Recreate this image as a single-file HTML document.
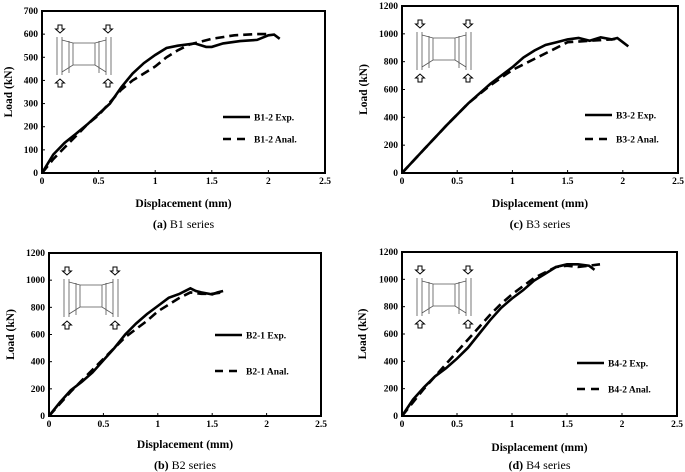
<!DOCTYPE html>
<html><head><meta charset="utf-8"><style>
html,body{margin:0;padding:0;background:#fff;}
svg{display:block;font-family:"Liberation Serif",serif;}
</style></head><body>
<svg id="fig" width="685" height="472" viewBox="0 0 685 472" xmlns="http://www.w3.org/2000/svg"></svg>
<script>
const xTicks=[0,0.5,1,1.5,2,2.5];
const xTickLabels=["0","0.5","1","1.5","2","2.5"];
const b1ExpX=[0,0.05,0.1,0.2,0.3,0.4,0.5,0.6,0.7,0.8,0.9,1.0,1.1,1.2,1.35,1.45,1.5,1.6,1.75,1.9,2.0,2.05,2.1];
const b1ExpY=[0,40,80,130,170,210,255,300,370,430,475,510,540,550,560,545,545,560,570,575,595,598,580];
const b1AnX=[0,0.1,0.2,0.3,0.4,0.5,0.6,0.7,0.8,0.9,1.0,1.1,1.2,1.3,1.5,1.7,1.9,2.0];
const b1AnY=[0,60,110,160,210,250,305,360,400,430,460,500,530,555,580,595,600,600];
const b3ExpX=[0,0.2,0.4,0.6,0.8,1.0,1.1,1.2,1.3,1.4,1.5,1.6,1.7,1.8,1.9,1.95,2.0,2.05];
const b3ExpY=[0,170,340,500,640,760,830,880,920,940,960,970,950,975,960,970,940,910];
const b3AnX=[0,0.2,0.4,0.6,0.8,1.0,1.2,1.4,1.5,1.7,1.9,1.95];
const b3AnY=[0,170,340,500,630,740,820,900,940,950,960,965];
const b2ExpX=[0,0.1,0.2,0.3,0.4,0.5,0.6,0.7,0.8,0.9,1.0,1.1,1.2,1.3,1.35,1.4,1.5,1.55,1.6];
const b2ExpY=[0,100,190,250,320,410,500,600,680,750,810,870,900,940,920,910,895,910,920];
const b2AnX=[0,0.1,0.2,0.3,0.4,0.5,0.6,0.7,0.8,0.9,1.0,1.1,1.2,1.3,1.4,1.5,1.6];
const b2AnY=[0,90,180,260,340,420,500,580,640,700,770,820,870,910,900,900,910];
const b4ExpX=[0,0.1,0.2,0.3,0.4,0.5,0.6,0.7,0.8,0.9,1.0,1.1,1.2,1.3,1.4,1.5,1.6,1.7,1.75];
const b4ExpY=[0,120,210,290,350,420,500,600,700,790,860,920,990,1040,1090,1110,1110,1100,1070];
const b4AnX=[0,0.1,0.2,0.3,0.4,0.5,0.6,0.7,0.8,0.9,1.0,1.1,1.2,1.3,1.4,1.5,1.6,1.7,1.8];
const b4AnY=[0,100,200,290,380,470,560,650,740,820,890,950,1010,1050,1090,1100,1090,1100,1110];
const y700=[0,100,200,300,400,500,600,700];
const y1200=[0,200,400,600,800,1000,1200];

const NS="http://www.w3.org/2000/svg";
const fig=document.getElementById('fig');
function mk(tag,attrs,parent){const e=document.createElementNS(NS,tag);for(const k in attrs)e.setAttribute(k,attrs[k]);(parent||fig).appendChild(e);return e;}

const panels=[
 {id:'a',L:42,R:325,T:11,B:173,yMax:700,yT:y700,ex:b1ExpX,ey:b1ExpY,ax:b1AnX,ay:b1AnY,expLbl:"B1-2 Exp.",anLbl:"B1-2 Anal.",legX:223,legY1:117,legY2:139,yTitleX:8,titleY:203,capY:224,cap:"(a)",ser:"B1 series"},
 {id:'c',L:402,R:678,T:6,B:173,yMax:1200,yT:y1200,ex:b3ExpX,ey:b3ExpY,ax:b3AnX,ay:b3AnY,expLbl:"B3-2 Exp.",anLbl:"B3-2 Anal.",legX:585,legY1:115,legY2:139,yTitleX:363,titleY:203,capY:224,cap:"(c)",ser:"B3 series"},
 {id:'b',L:49,R:321,T:253,B:416,yMax:1200,yT:y1200,ex:b2ExpX,ey:b2ExpY,ax:b2AnX,ay:b2AnY,expLbl:"B2-1 Exp.",anLbl:"B2-1 Anal.",legX:215,legY1:335,legY2:371,yTitleX:10,titleY:444,capY:465,cap:"(b)",ser:"B2 series"},
 {id:'d',L:402,R:677,T:252,B:416,yMax:1200,yT:y1200,ex:b4ExpX,ey:b4ExpY,ax:b4AnX,ay:b4AnY,expLbl:"B4-2 Exp.",anLbl:"B4-2 Anal.",legX:577,legY1:363,legY2:389,yTitleX:362,titleY:447,capY:465,cap:"(d)",ser:"B4 series"}
];

panels.forEach(p=>{
 const g=mk('g',{});
 
 
 const sx=v=>p.L+(v/2.5)*(p.R-p.L);
 const sy=v=>p.B-(v/p.yMax)*(p.B-p.T);
 const frame=mk('rect',{x:p.L,y:p.T,width:p.R-p.L,height:p.B-p.T,fill:'none',stroke:'#000','stroke-width':2},g);
 
 
 xTicks.forEach((t,i)=>{
  mk('line',{x1:sx(t),x2:sx(t),y1:p.B,y2:p.B-3,stroke:'#000','stroke-width':1},g);
  const tx=mk('text',{x:sx(t),y:p.B+11,'font-size':9.5,'font-weight':'bold','text-anchor':'middle'},g);
  tx.textContent=xTickLabels[i];
  
  
 });
 p.yT.forEach(t=>{
  mk('line',{x1:p.L,x2:p.L+3,y1:sy(t),y2:sy(t),stroke:'#000','stroke-width':1},g);
  const ty=mk('text',{x:p.L-4,y:sy(t)+3,'font-size':9.5,'font-weight':'bold','text-anchor':'end'},g);
  ty.textContent=String(t);
  
  
 });
 const xt=mk('text',{x:(p.L+p.R)/2,y:p.titleY+4,'font-size':11.5,'font-weight':'bold','text-anchor':'middle'},g);
 xt.textContent="Displacement (mm)";
 
 
 const cy=(p.T+p.B)/2;
 const yt=mk('text',{x:p.yTitleX+4,y:cy,'font-size':11.5,'font-weight':'bold','text-anchor':'middle',transform:`rotate(-90 ${p.yTitleX+4} ${cy})`},g);
 yt.textContent="Load (kN)";
 
 
 const cap=mk('text',{x:(p.L+p.R)/2,y:p.capY+4,'font-size':12,'text-anchor':'middle'},g);
 cap.innerHTML='<tspan font-weight="bold">'+p.cap+'</tspan> '+p.ser;
 
 
 // series
 const pts=(xs,ys)=>xs.map((x,i)=>sx(x).toFixed(1)+','+sy(ys[i]).toFixed(1)).join(' ');
 const an=mk('polyline',{points:pts(p.ax,p.ay),fill:'none',stroke:'#000','stroke-width':2.6,'stroke-dasharray':'9,5'},g);
 
 
 const ex=mk('polyline',{points:pts(p.ex,p.ey),fill:'none',stroke:'#000','stroke-width':2.6},g);
 
 
 // legend
 const l1=mk('line',{x1:p.legX,x2:p.legX+27,y1:p.legY1,y2:p.legY1,stroke:'#000','stroke-width':2.6},g);
 
 
 const t1=mk('text',{x:p.legX+31,y:p.legY1+3.5,'font-size':9.5,'font-weight':'bold'},g);
 t1.textContent=p.expLbl;
 
 
 const l2=mk('line',{x1:p.legX,x2:p.legX+27,y1:p.legY2,y2:p.legY2,stroke:'#000','stroke-width':2.6,'stroke-dasharray':'8,6'},g);
 
 
 const t2=mk('text',{x:p.legX+31,y:p.legY2+3.5,'font-size':9.5,'font-weight':'bold'},g);
 t2.textContent=p.anLbl;
 
 
 // inset specimen diagram
 const ix=p.L+15, iy=p.T+20;
 const ins=mk('g',{transform:`translate(${ix},${iy})`,fill:'none',stroke:'#555','stroke-width':0.8},g);
 
 
 mk('path',{d:'M0,6 L0,44 M5,6 L5,44 M49,6 L49,44 M54,6 L54,44 M5,9 L16,12 L38,12 L49,9 M5,41 L16,34 L38,34 L49,41 M16,12 L16,34 M38,12 L38,34 M12,10 L12,42 M42,10 L42,42'},ins);
 const arrow=(x,y,down)=>{const s=down?1:-1;mk('path',{d:`M${x-2},${y} L${x+2},${y} L${x+2},${y+4*s} L${x+4.5},${y+4*s} L${x},${y+8*s} L${x-4.5},${y+4*s} L${x-2},${y+4*s} Z`,fill:'#fff',stroke:'#000','stroke-width':1},ins);};
 arrow(3,-6,true);arrow(51,-6,true);arrow(3,56,false);arrow(51,56,false);
});
</script>
</body></html>
